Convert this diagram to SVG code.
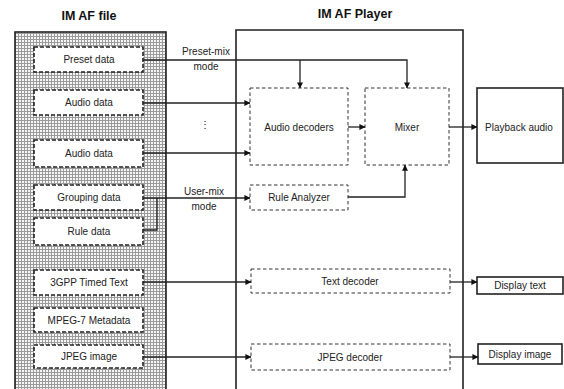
<svg xmlns="http://www.w3.org/2000/svg" width="564" height="389" viewBox="0 0 564 389">
<defs>
<pattern id="dots" width="3" height="3" patternUnits="userSpaceOnUse">
<rect width="3" height="3" fill="#f6f6f6"/>
<rect x="0" y="0" width="3" height="1" fill="#9a9a9a"/>
<rect x="0" y="0" width="1" height="3" fill="#9a9a9a"/>
</pattern>
<marker id="arr" viewBox="0 0 8 8" refX="7.5" refY="4" markerWidth="6" markerHeight="6" orient="auto" markerUnits="userSpaceOnUse">
<path d="M0,0 L8,4 L0,8 Z" fill="#111"/>
</marker>
</defs>
<style>
text{font-family:"Liberation Sans",Arial,sans-serif;font-size:10px;fill:#222;text-anchor:middle;dominant-baseline:central}
.title{font-size:12.5px;font-weight:bold;fill:#111}
.fbox{fill:#fff;stroke:#222;stroke-width:1.6;stroke-dasharray:4 2}
.pbox{fill:#fff;stroke:#333;stroke-width:1;stroke-dasharray:3.5 2.5}
.obox{fill:#fff;stroke:#222;stroke-width:1.6}
.conn{fill:none;stroke:#222;stroke-width:1.3}
</style>

<g id="imaf-file">
<text class="title" x="89" y="16">IM AF file</text>
<rect x="15" y="32" width="151" height="370" fill="url(#dots)" stroke="#222" stroke-width="1.6"/>
</g>
<g id="imaf-player">
<text class="title" x="355" y="14">IM AF Player</text>
<path d="M236,395 V30 H463 V395" fill="none" stroke="#222" stroke-width="1.6"/>
</g>

<g id="preset-data"><rect class="fbox" x="34" y="47" width="109" height="25"/><text x="89" y="59.5">Preset data</text></g>
<g id="audio-data-1"><rect class="fbox" x="34" y="90" width="109" height="25"/><text x="89" y="102.5">Audio data</text></g>
<g id="audio-data-2"><rect class="fbox" x="34" y="140" width="109" height="27"/><text x="89" y="153">Audio data</text></g>
<g id="grouping-data"><rect class="fbox" x="34" y="185" width="109" height="25"/><text x="89" y="197.5">Grouping data</text></g>
<g id="rule-data"><rect class="fbox" x="34" y="218" width="109" height="27"/><text x="89" y="231">Rule data</text></g>
<g id="timed-text"><rect class="fbox" x="34" y="270" width="109" height="25"/><text x="89" y="282.5">3GPP Timed Text</text></g>
<g id="mpeg7"><rect class="fbox" x="34" y="308" width="109" height="24"/><text x="89" y="320">MPEG-7 Metadata</text></g>
<g id="jpeg-image"><rect class="fbox" x="34" y="345" width="109" height="23"/><text x="89" y="356.5">JPEG image</text></g>

<g id="audio-decoders"><rect class="pbox" x="250" y="88" width="98" height="77"/><text x="299" y="127">Audio decoders</text></g>
<g id="mixer"><rect class="pbox" x="365" y="88" width="84" height="77"/><text x="407" y="127">Mixer</text></g>
<g id="rule-analyzer"><rect class="pbox" x="250" y="185" width="98" height="25"/><text x="299" y="197.5">Rule Analyzer</text></g>
<g id="text-decoder"><rect class="pbox" x="251" y="269" width="199" height="24"/><text x="350" y="281">Text decoder</text></g>
<g id="jpeg-decoder"><rect class="pbox" x="251" y="344" width="199" height="26"/><text x="350" y="357">JPEG decoder</text></g>

<g id="playback-audio"><rect class="obox" x="477" y="88" width="86" height="75"/><text x="519" y="127">Playback audio</text></g>
<g id="display-text"><rect class="obox" x="477" y="277" width="86" height="17"/><text x="520" y="285.5">Display text</text></g>
<g id="display-image"><rect class="obox" x="478" y="344" width="84" height="20"/><text x="520" y="354">Display image</text></g>

<g id="connectors">
<path class="conn" d="M143,60 H407 V88" marker-end="url(#arr)"/>
<path class="conn" d="M300,60 V88" marker-end="url(#arr)"/>
<path class="conn" d="M143,103 H250" marker-end="url(#arr)"/>
<path class="conn" d="M143,153 H250" marker-end="url(#arr)"/>
<path class="conn" d="M143,198 H250" marker-end="url(#arr)"/>
<path class="conn" d="M143,230 H157 V198"/>
<path class="conn" d="M348,127 H365" marker-end="url(#arr)"/>
<path class="conn" d="M348,197 H405 V165" marker-end="url(#arr)"/>
<path class="conn" d="M449,127 H477" marker-end="url(#arr)"/>
<path class="conn" d="M143,282 H251" marker-end="url(#arr)"/>
<path class="conn" d="M450,282 H477" marker-end="url(#arr)"/>
<path class="conn" d="M143,357 H251" marker-end="url(#arr)"/>
<path class="conn" d="M450,357 H478" marker-end="url(#arr)"/>
<text x="206" y="51">Preset-mix</text>
<text x="206" y="66">mode</text>
<text x="204" y="191">User-mix</text>
<text x="204" y="206">mode</text>
<text x="205" y="124">⋮</text>
</g>
</svg>
